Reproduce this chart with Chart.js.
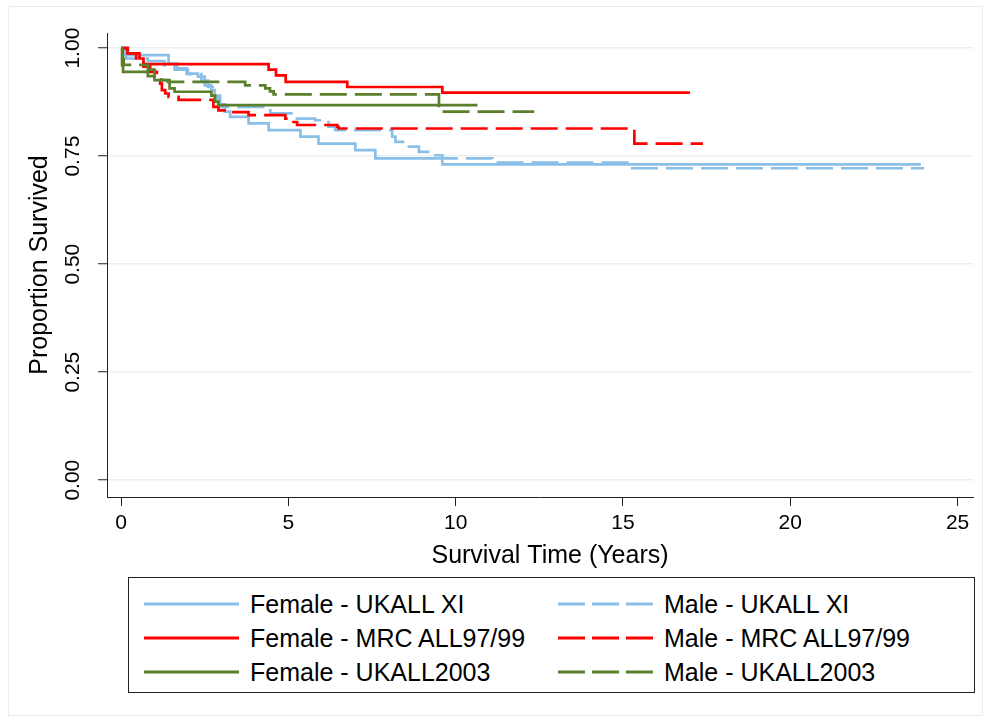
<!DOCTYPE html>
<html>
<head>
<meta charset="utf-8">
<script src="https://cdn.jsdelivr.net/npm/chart.js@4.4.1/dist/chart.umd.min.js"></script>
<style>
  html, body { margin: 0; padding: 0; background: #fff; }
  body { width: 991px; height: 724px; position: relative; overflow: hidden; font-family: "Liberation Sans", Arial, sans-serif; }
  #frame { position: absolute; left: 8px; top: 6px; right: 8px; bottom: 8px; border: 1px solid #E4EDF0; }
  #wrap { position: absolute; left: 0; top: 0; width: 991px; height: 724px; }
  #legend { position: absolute; left: 128px; top: 577px; width: 847px; height: 116px; border: 1px solid #222; box-sizing: border-box; background: #fff; }
  .item { position: absolute; height: 30px; display: flex; align-items: center; font-size: 25px; color: #000; white-space: nowrap; }
  .item svg { margin-right: 11px; }
</style>
</head>
<body>
<div id="frame"></div>
<div id="wrap"><canvas id="km"></canvas></div>
<div id="legend"></div>
<script>
// survival time (years) and proportion surviving after each step
const femaleXiT = [0, 0.1, 1.42, 1.67, 1.96, 2.3, 2.5, 2.7, 2.8, 2.9, 3.1, 3.26, 3.81, 4.41, 5.36, 5.9, 7.0, 7.6, 9.6, 23.9]
const femaleXiS = [1, 0.984, 0.964, 0.953, 0.941, 0.934, 0.914, 0.903, 0.885, 0.87, 0.853, 0.841, 0.826, 0.81, 0.795, 0.779, 0.764, 0.745, 0.731, 0.731]

const maleXiT = [0, 0.15, 0.8, 1.3, 1.6, 2.0, 2.4, 2.6, 2.8, 2.96, 4.46, 5.2, 5.8, 6.2, 6.4, 8.1, 8.2, 8.5, 8.9, 9.3, 9.6, 11.1, 15.2, 24.0]
const maleXiS = [1, 0.976, 0.97, 0.96, 0.95, 0.94, 0.925, 0.91, 0.89, 0.864, 0.849, 0.837, 0.833, 0.818, 0.81, 0.795, 0.783, 0.772, 0.76, 0.752, 0.745, 0.735, 0.722, 0.722]

const femaleMrcT = [0, 0.2, 0.55, 0.67, 4.41, 4.63, 4.92, 6.76, 9.6, 17.0]
const femaleMrcS = [1, 0.988, 0.976, 0.963, 0.95, 0.937, 0.922, 0.91, 0.897, 0.897]

const maleMrcT = [0, 0.2, 0.45, 0.67, 0.87, 1.07, 1.17, 1.22, 1.32, 1.42, 1.72, 2.76, 2.91, 3.16, 3.81, 4.91, 5.06, 5.26, 6.46, 6.5, 15.34, 17.39]
const maleMrcS = [1, 0.988, 0.976, 0.957, 0.945, 0.93, 0.918, 0.903, 0.895, 0.887, 0.88, 0.864, 0.856, 0.852, 0.845, 0.837, 0.829, 0.822, 0.818, 0.814, 0.779, 0.779]

const female03T = [0, 0.03, 0.06, 0.8, 1.0, 1.45, 1.6, 2.7, 2.81, 2.91, 10.65]
const female03S = [1, 0.96, 0.945, 0.935, 0.926, 0.907, 0.899, 0.89, 0.876, 0.868, 0.868]

const male03T = [0, 0.05, 0.08, 0.8, 1.0, 1.2, 1.4, 3.71, 4.31, 4.45, 4.56, 9.5, 12.35]
const male03S = [1, 0.975, 0.961, 0.95, 0.935, 0.926, 0.922, 0.914, 0.907, 0.9, 0.893, 0.853, 0.853]

const xTicks = [0, 5, 10, 15, 20, 25]
const yTicks = [0, 0.25, 0.5, 0.75, 1]

const BLUE = '#8AC0E8'
const RED = '#FF0000'
const GREEN = '#5B7F2B'
const DASH = [27, 8]

const series = [
  { label: 'Female - UKALL XI', t: femaleXiT, s: femaleXiS, color: BLUE, dashed: false },
  { label: 'Male - UKALL XI', t: maleXiT, s: maleXiS, color: BLUE, dashed: true },
  { label: 'Female - MRC ALL97/99', t: femaleMrcT, s: femaleMrcS, color: RED, dashed: false },
  { label: 'Male - MRC ALL97/99', t: maleMrcT, s: maleMrcS, color: RED, dashed: true },
  { label: 'Female - UKALL2003', t: female03T, s: female03S, color: GREEN, dashed: false },
  { label: 'Male - UKALL2003', t: male03T, s: male03S, color: GREEN, dashed: true }
]

const FONT = '"Liberation Sans", Arial, sans-serif'

// rotated y tick labels and axis titles (Stata style)
const stataText = {
  id: 'stataText',
  afterDraw(chart) {
    const { ctx, scales, chartArea } = chart
    ctx.save()
    ctx.fillStyle = '#000'
    ctx.font = '21px ' + FONT
    ctx.textAlign = 'center'
    ctx.textBaseline = 'middle'
    yTicks.forEach(v => {
      const y = scales.y.getPixelForValue(v)
      ctx.save()
      ctx.translate(chartArea.left - 34, y)
      ctx.rotate(-Math.PI / 2)
      ctx.fillText(v.toFixed(2), 0, 0)
      ctx.restore()
    })
    ctx.font = '25px ' + FONT
    ctx.fillText('Survival Time (Years)', (chartArea.left + chartArea.right) / 2 + 10, chartArea.bottom + 59)
    ctx.save()
    ctx.translate(40, (chartArea.top + chartArea.bottom) / 2)
    ctx.rotate(-Math.PI / 2)
    ctx.fillText('Proportion Survived', 0, 0)
    ctx.restore()
    ctx.restore()
  }
}

const datasets = series.map((d, i) => ({
  label: d.label,
  data: d.t.map((t, k) => ({ x: t, y: d.s[k] })),
  borderColor: d.color,
  borderWidth: 2.7,
  borderDash: d.dashed ? DASH : [],
  stepped: 'before',
  pointRadius: 0,
  fill: false,
  order: series.length - i
}))

new Chart(document.getElementById('km'), {
  type: 'line',
  data: { datasets },
  options: {
    responsive: true,
    maintainAspectRatio: false,
    animation: false,
    layout: { padding: { top: 33, right: 18, left: 0, bottom: 0 } },
    plugins: {
      legend: { display: false },
      tooltip: { enabled: false }
    },
    scales: {
      x: {
        type: 'linear',
        min: -0.42,
        max: 25.46,
        afterBuildTicks: s => { s.ticks = xTicks.map(v => ({ value: v })) },
        afterFit: s => { s.height = 724 - 497 },
        grid: { drawOnChartArea: false, tickLength: 9, tickColor: '#222', tickWidth: 1 },
        border: { display: true, color: '#222', width: 1 },
        ticks: { color: '#000', font: { family: FONT, size: 21 }, padding: 5, maxRotation: 0 }
      },
      y: {
        type: 'linear',
        min: -0.039,
        max: 1.035,
        afterBuildTicks: s => { s.ticks = yTicks.map(v => ({ value: v })) },
        afterFit: s => { s.width = 107 },
        grid: { color: '#E8F0F2', lineWidth: 1.5, tickLength: 9, tickColor: '#222', tickWidth: 1 },
        border: { display: true, color: '#222', width: 1 },
        ticks: { display: false }
      }
    }
  },
  plugins: [stataText]
})

// legend box: two columns, three rows
const legend = document.getElementById('legend')
series.forEach((d, i) => {
  const col = i % 2
  const row = Math.floor(i / 2)
  const el = document.createElement('div')
  el.className = 'item'
  el.style.left = (col === 0 ? 15 : 429) + 'px'
  el.style.top = (11 + row * 34) + 'px'
  el.innerHTML = '<svg width="95" height="6"><line x1="0" y1="3" x2="95" y2="3" stroke="' + d.color +
    '" stroke-width="3"' + (d.dashed ? ' stroke-dasharray="27 7"' : '') + '/></svg>'
  el.appendChild(document.createTextNode(d.label))
  legend.appendChild(el)
})
</script>
</body>
</html>
